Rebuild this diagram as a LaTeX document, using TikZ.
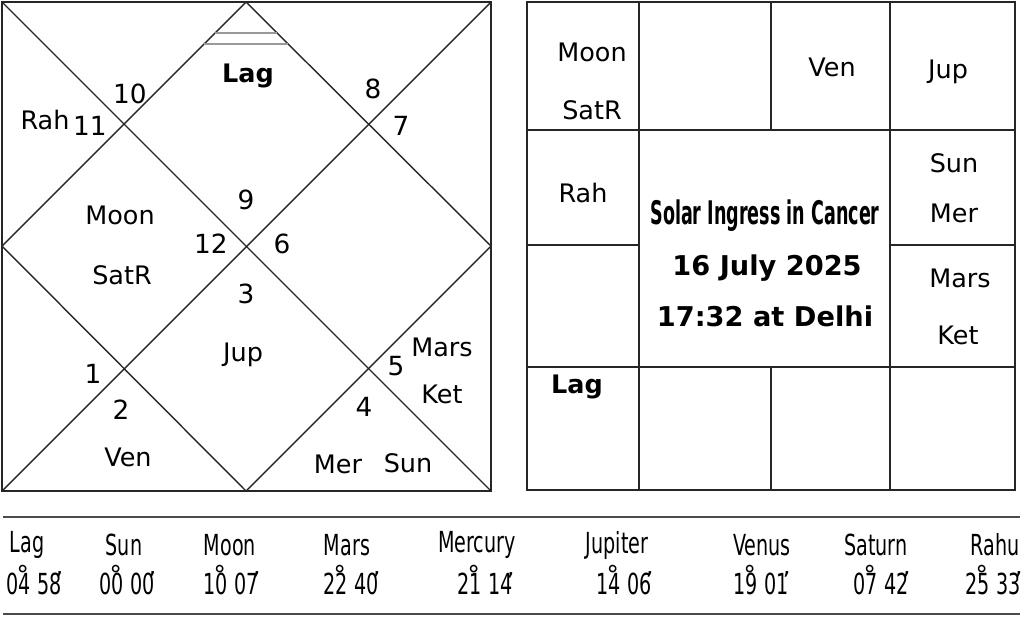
\documentclass[tikz,border=0pt]{standalone}
\usepackage{fontspec}
\setmainfont{DejaVu Sans}
\newfontfamily\tablefont[FakeStretch=0.66]{DejaVu Sans}
\newfontfamily\titlefont[FakeStretch=0.54]{DejaVu Sans}
% degrees and minutes, marks set close over the digits
\newcommand{\degmin}[2]{#1\hspace{-0.5em}\raisebox{0.36em}{\rmfamily\fontsize{14}{14}\selectfont°}\hspace{0.3em}#2\hspace{-0.22em}\raisebox{0.15em}{\rmfamily\fontsize{14}{14}\selectfont’}}

\begin{document}
\begin{tikzpicture}[x=0.02cm,y=-0.02cm,
    chartline/.style={draw=black!85, line width=0.8pt},
    planet/.style={inner sep=0pt, font=\fontsize{14.5}{17}\selectfont},
    house/.style={inner sep=0pt, font=\fontsize{15}{18}\selectfont},
    lagna/.style={inner sep=0pt, font=\fontsize{14.5}{17}\selectfont\bfseries},
    title/.style={inner sep=0pt, font=\fontsize{15.5}{19}\selectfont\bfseries},
    tabtext/.style={inner sep=0pt, font=\tablefont\fontsize{16.5}{20}\selectfont}]
    \useasboundingbox (0,0) rectangle (1024,616);

    % the north indian chart
    \draw[chartline] (2,2) rectangle (491,491);
    \draw[chartline] (2,2) -- (491,491);
    \draw[chartline] (491,2) -- (2,491);
    \draw[chartline] (246,2) -- (491,246) -- (246,491) -- (2,246) -- cycle;
    % the two grey marks under the top corner
    \draw[black!40, line width=1pt] (215,33) -- (277,33);
    \draw[black!40, line width=1pt] (204,44) -- (288,44);

    % the house numbers
    \node[house] (h1) at (93,374) {1};
    \node[house] (h2) at (121,410) {2};
    \node[house] (h3) at (246,294) {3};
    \node[house] (h4) at (364,407) {4};
    \node[house] (h5) at (396,366) {5};
    \node[house] (h6) at (282,244) {6};
    \node[house] (h7) at (401,126) {7};
    \node[house] (h8) at (373,89) {8};
    \node[house] (h9) at (246,200) {9};
    \node[house] (h10) at (130,94) {10};
    \node[house] (h11) at (90,126) {11};
    \node[house] (h12) at (211,244) {12};

    % the planets in the houses
    \node[lagna] (nlag) at (248,76) {Lag};
    \node[planet] (nrah) at (45,120) {Rah};
    \node[planet] (nmoon) at (120,215) {Moon};
    \node[planet] (nsat) at (122,275) {SatR};
    \node[planet] (njup) at (243,355) {Jup};
    \node[planet] (nven) at (128,457) {Ven};
    \node[planet] (nmars) at (442,347) {Mars};
    \node[planet] (nket) at (442,394) {Ket};
    \node[planet] (nmer) at (338,464) {Mer};
    \node[planet] (nsun) at (408,463) {Sun};

    % the south indian chart
    \draw[chartline] (527,2) rectangle (1015,490);
    \draw[chartline] (527,130) -- (1015,130);
    \draw[chartline] (527,367) -- (1015,367);
    \draw[chartline] (639,2) -- (639,490);
    \draw[chartline] (890,2) -- (890,490);
    \draw[chartline] (771,2) -- (771,130);
    \draw[chartline] (771,367) -- (771,490);
    \draw[chartline] (527,245) -- (639,245);
    \draw[chartline] (890,245) -- (1015,245);

    \node[planet] (smoon) at (592,52) {Moon};
    \node[planet] (ssat) at (592,110) {SatR};
    \node[planet] (sven) at (832,67) {Ven};
    \node[planet] (sjup) at (948,72) {Jup};
    \node[planet] (srah) at (583,193) {Rah};
    \node[planet] (ssun) at (954,163) {Sun};
    \node[planet] (smer) at (954,213) {Mer};
    \node[planet] (smars) at (960,278) {Mars};
    \node[planet] (sket) at (958,335) {Ket};
    \node[lagna] (slag) at (577,387) {Lag};

    % the text in the middle
    \node[inner sep=0pt, font=\titlefont\fontsize{18.5}{22}\selectfont\bfseries] (event) at (765,216) {Solar Ingress in Cancer};
    \node[title] (date) at (767,268) {16 July 2025};
    \node[title] (place) at (765,316) {17:32 at Delhi};

    % the table of degrees
    \draw[black!70, line width=1pt] (3,517) -- (1020,517);
    \draw[black!70, line width=1pt] (3,614) -- (1020,614);

    \node[tabtext] (tlag) at (27,545) {Lag};
    \node[tabtext] (tsun) at (124,545) {Sun};
    \node[tabtext] (tmoon) at (230,545) {Moon};
    \node[tabtext] (tmars) at (347,545) {Mars};
    \node[tabtext] (tmer) at (477,545) {Mercury};
    \node[tabtext] (tjup) at (617,545) {Jupiter};
    \node[tabtext] (tven) at (762,545) {Venus};
    \node[tabtext] (tsat) at (876,545) {Saturn};
    \node[tabtext] (trah) at (995,545) {Rahu};

    \node[tabtext] (dlag) at (35,580) {\degmin{04}{58}};
    \node[tabtext] (dsun) at (128,580) {\degmin{00}{00}};
    \node[tabtext] (dmoon) at (232,580) {\degmin{10}{07}};
    \node[tabtext] (dmars) at (352,580) {\degmin{22}{40}};
    \node[tabtext] (dmer) at (486,580) {\degmin{21}{14}};
    \node[tabtext] (djup) at (625,580) {\degmin{14}{06}};
    \node[tabtext] (dven) at (762,580) {\degmin{19}{01}};
    \node[tabtext] (dsat) at (882,580) {\degmin{07}{42}};
    \node[tabtext] (drah) at (994,580) {\degmin{25}{33}};

\end{tikzpicture}
\end{document}
